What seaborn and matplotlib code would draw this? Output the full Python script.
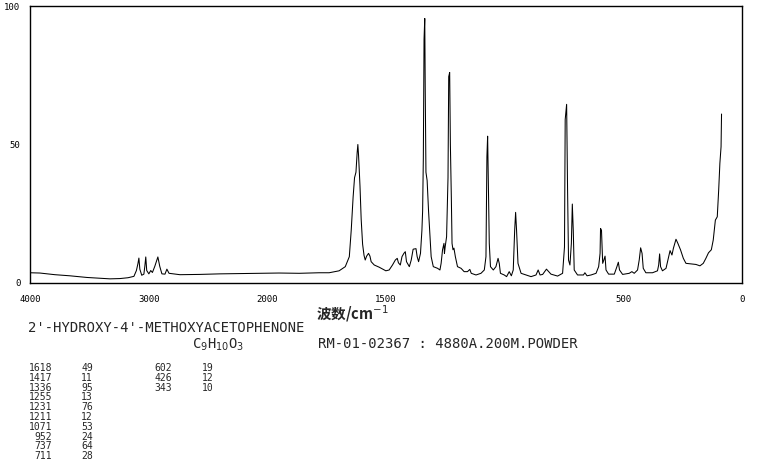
import matplotlib
matplotlib.use('Agg')
import matplotlib.pyplot as plt
from matplotlib.ticker import FixedLocator, MultipleLocator
import numpy as np
import pandas as pd
import seaborn as sns

sns.set_style('white')
plt.rcParams['font.family'] = ['DejaVu Sans Mono', 'Noto Sans CJK SC']

# spectrum (wavenumber cm-1, intensity)
wavenumber = [4000, 3917, 3790, 3664, 3520, 3410, 3326, 3242, 3174, 3124, 3103, 3090, 3082, 3074,
              3058, 3040, 3032, 3024, 3016, 2998, 2982, 2968, 2948, 2922, 2906, 2888, 2862, 2846,
              2828, 2736, 2568, 2400, 2230, 2062,
              1950, 1865, 1781, 1739, 1697, 1671, 1654, 1646, 1638, 1632, 1626, 1621, 1618, 1615,
              1609, 1604, 1598, 1592, 1587, 1581, 1573, 1567, 1562, 1549, 1528, 1500, 1486, 1472,
              1460, 1452, 1447, 1439, 1432, 1424, 1418, 1413, 1401, 1393, 1385, 1373, 1368, 1362,
              1354, 1348, 1345, 1342, 1339, 1336, 1334, 1331, 1326, 1320, 1314, 1309, 1300, 1282,
              1272, 1267, 1261, 1255, 1253, 1250, 1244, 1238, 1235, 1231, 1228, 1224, 1221, 1217,
              1213, 1207, 1198, 1183, 1170, 1156, 1146, 1140, 1120, 1099, 1085, 1078, 1074, 1071,
              1067, 1064, 1059, 1047, 1036, 1027, 1022, 1017, 1001, 991, 980, 971, 963, 957,
              953, 949, 943, 930, 909, 888, 867, 858, 850, 839, 823, 804, 776, 755,
              747, 744, 738, 734, 730, 724, 718, 714, 710, 706, 692, 667, 661, 652,
              635, 614, 603, 597, 595, 591, 586, 581, 576, 572, 561, 537, 526, 520,
              515, 502, 474, 463, 453, 439, 432, 426, 420, 415, 404, 376, 355, 350,
              346, 342, 334, 319, 311, 302, 294, 288, 277, 269, 258, 246, 235, 214,
              193, 176, 162, 151, 140, 128, 120, 111, 103, 97, 92, 87, 85]
intensity = [3.7, 3.6, 3.0, 2.6, 2.0, 1.7, 1.5, 1.6, 1.9, 2.4, 4.5, 7.0, 9.0, 5.0,
             2.8, 3.2, 6.0, 9.4, 4.5, 3.3, 4.5, 3.8, 6.0, 9.4, 6.0, 3.3, 3.2, 5.0,
             3.5, 3.0, 3.1, 3.3, 3.4, 3.5,
             3.6, 3.5, 3.7, 3.7, 4.4, 5.9, 9.5, 19, 31, 38, 40, 47, 50, 46,
             35, 23, 14, 10, 8.3, 9.7, 10.7, 9.7, 7.7, 6.5, 5.7, 4.4, 4.7, 6.5,
             8.3, 8.9, 7.3, 6.5, 9.5, 10.7, 11.3, 7.7, 5.9, 8.3, 12.2, 12.4, 9.5, 7.7,
             10.7, 19, 26, 45, 88, 95.5, 70, 40, 37, 26, 16.7, 9.5, 5.9, 5.3,
             4.7, 7.1, 12, 14.3, 10.7, 13, 16.7, 38, 74.5, 76, 50, 31, 14.3, 12,
             12.6, 9.5, 5.9, 5.3, 4.1, 4.1, 4.9, 3.5, 2.9, 3.5, 4.7, 9.5, 45.6, 53,
             32, 14.3, 5.9, 4.7, 5.9, 8.9, 7.1, 3.5, 2.9, 2.3, 4.1, 2.6, 4.7, 19,
             25.5, 19, 7.1, 3.5, 2.9, 2.3, 2.9, 4.7, 2.9, 3.1, 5.0, 3.2, 2.5, 3.5,
             13, 59, 64.5, 33.6, 8.3, 6.5, 14.3, 28.5, 19, 4.7, 2.9, 2.9, 3.7, 2.6,
             2.9, 3.5, 5.9, 10.7, 19.7, 19, 7.1, 8.3, 9.7, 4.7, 3.2, 3.2, 5.9, 7.5,
             4.7, 3.1, 3.5, 4.1, 3.5, 4.7, 8.3, 12.7, 10.7, 5.3, 3.7, 3.7, 4.4, 6.5,
             10.5, 5.9, 4.4, 5.3, 8.3, 11.7, 10.1, 12.5, 15.8, 14.3, 12, 8.9, 7.1, 6.9,
             6.7, 6.2, 7.1, 8.9, 10.9, 12, 15.5, 22.7, 23.9, 33.6, 43.2, 49.2, 61]

# peak table printed under the chart
peak_wn = [1618, 1417, 1336, 1255, 1231, 1211, 1071, 952, 737, 711, 602, 426, 343]
peak_int = [49, 11, 95, 13, 76, 12, 53, 24, 64, 28, 19, 12, 10]

x_major = [4000, 3000, 2000, 1500, 500, 0]
y_major = [0, 50, 100]

compound = "2'-HYDROXY-4'-METHOXYACETOPHENONE"
formula = r'C$_9$H$_{10}$O$_3$'
sample = 'RM-01-02367 : 4880A.200M.POWDER'
xlabel = '波数/cm$^{-1}$'

df = pd.DataFrame({'wn': wavenumber, 'i': intensity})


# axis is compressed by half above 2000 cm-1
def fwd(w):
    w = np.asarray(w, dtype=float)
    return np.where(w > 2000, 2000 + (w - 2000) / 2, w)


def inv(t):
    t = np.asarray(t, dtype=float)
    return np.where(t > 2000, 2000 + (t - 2000) * 2, t)


W, H = 765, 476
fig = plt.figure(figsize=(W / 100, H / 100), dpi=100)
ax = fig.add_axes([30 / W, 1 - 283 / H, (741.7 - 30) / W, (283 - 6) / H])

sns.lineplot(data=df, x='wn', y='i', ax=ax, color='black', lw=0.75,
             sort=False, estimator=None)

ax.set_xscale('function', functions=(fwd, inv))
ax.set_xlim(4000, 0)
ax.set_ylim(0, 100)
ax.xaxis.set_major_locator(FixedLocator(x_major))
ax.xaxis.set_minor_locator(MultipleLocator(100))
ax.set_xticklabels([str(v) for v in x_major])
ax.yaxis.set_major_locator(FixedLocator(y_major))
ax.yaxis.set_minor_locator(MultipleLocator(10))
ax.set_yticklabels([str(v) for v in y_major])
ax.set_xlabel('')
ax.set_ylabel('')

for s in ax.spines.values():
    s.set_color('black')
    s.set_linewidth(1)

ax.tick_params(axis='x', which='major', direction='out', length=7, width=1,
               labelsize=6.5, pad=1.5, colors='black')
ax.tick_params(axis='x', which='minor', direction='out', length=3, width=0.8)
ax.tick_params(axis='y', which='major', direction='out', length=6, width=1,
               labelsize=6.5, pad=1, colors='black')
ax.tick_params(axis='y', which='minor', direction='in', length=3, width=0.8)


def px(x, y):
    return x / W, 1 - y / H


fig.text(*px(352, 314), xlabel, family=['Noto Sans CJK SC', 'DejaVu Sans'],
         fontsize=10.5, fontweight='bold', ha='center', va='center')
fig.text(*px(28, 327.5), compound, fontsize=10, ha='left', va='center')
fig.text(*px(192, 345), formula, fontsize=10, ha='left', va='center')
fig.text(*px(318, 344), sample, fontsize=10, ha='left', va='center')

for k, (wn, it) in enumerate(zip(peak_wn, peak_int)):
    col, row = divmod(k, 10)
    y = 368 + row * 9.8
    fig.text(*px(52 + col * 120, y), str(wn), fontsize=7, ha='right', va='center')
    fig.text(*px(81 + col * 121, y), str(it), fontsize=7, ha='left', va='center')

fig.savefig('out.png', dpi=100)
